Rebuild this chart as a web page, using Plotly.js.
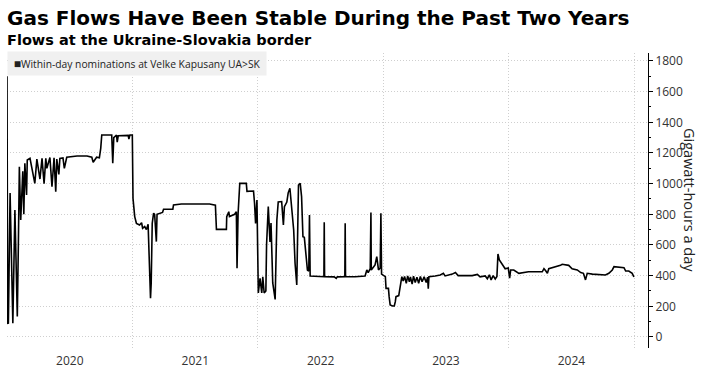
<!DOCTYPE html>
<html>
<head>
<meta charset="utf-8">
<script src="https://cdn.plot.ly/plotly-3.0.1.min.js"></script>
<style>
html,body{margin:0;padding:0;background:#fff;}
#chart{width:711px;height:381px;}
</style>
</head>
<body>
<div id="chart"></div>
<script>
// Within-day nominations at Velke Kapusany UA>SK, GWh/day
const dates = [
"2020-01-01","2020-01-03","2020-01-05","2020-01-10","2020-01-13","2020-01-18","2020-01-24","2020-01-27","2020-01-31","2020-02-03",
"2020-02-06","2020-02-10","2020-02-16","2020-02-19","2020-02-22","2020-02-27","2020-02-29","2020-03-08","2020-03-22","2020-03-28",
"2020-04-06","2020-04-12","2020-04-18","2020-04-23","2020-04-26","2020-05-05","2020-05-11","2020-05-17","2020-05-22","2020-05-25",
"2020-05-31","2020-06-03","2020-06-12","2020-06-16","2020-06-23","2020-07-23","2020-08-21","2020-09-04","2020-09-08","2020-09-18",
"2020-09-26","2020-09-30","2020-10-03","2020-11-01","2020-11-04","2020-11-07","2020-11-15","2020-11-17","2020-11-20","2020-12-19",
"2020-12-21","2020-12-24","2020-12-31",
"2021-01-02","2021-01-07","2021-01-12","2021-01-21","2021-01-27","2021-01-30","2021-02-05","2021-02-10","2021-02-15","2021-02-17",
"2021-02-22","2021-02-24","2021-02-27","2021-03-03","2021-03-06","2021-03-11","2021-03-13","2021-03-29","2021-04-01","2021-04-28",
"2021-04-30","2021-05-23","2021-08-13","2021-08-30","2021-09-02","2021-10-01","2021-10-02","2021-10-08","2021-10-10","2021-10-25",
"2021-10-30","2021-11-01","2021-11-04","2021-11-09","2021-11-28","2021-11-30","2021-12-19","2021-12-22","2021-12-25","2021-12-29",
"2022-01-02","2022-01-07","2022-01-12","2022-01-15","2022-01-19","2022-01-24","2022-01-26","2022-01-31","2022-02-05","2022-02-08",
"2022-02-13","2022-02-20","2022-02-25","2022-03-01","2022-03-11","2022-03-16","2022-03-19","2022-03-26","2022-03-30","2022-04-04",
"2022-04-10","2022-04-15","2022-04-19","2022-04-24","2022-04-29","2022-05-04","2022-05-08","2022-05-12","2022-05-16","2022-05-21",
"2022-05-25","2022-05-29","2022-05-31","2022-06-02","2022-06-16","2022-07-12","2022-07-13","2022-07-14","2022-08-11","2022-08-17",
"2022-08-20","2022-09-11","2022-09-12","2022-09-13","2022-10-11","2022-11-09","2022-11-14","2022-11-18","2022-11-24","2022-11-26",
"2022-11-27","2022-12-05","2022-12-08","2022-12-13","2022-12-18","2022-12-23","2022-12-25","2022-12-27","2022-12-31",
"2023-01-07","2023-01-09","2023-01-16","2023-01-18","2023-01-21","2023-01-28","2023-02-02","2023-02-05","2023-02-07","2023-02-15",
"2023-02-19","2023-02-22","2023-02-24","2023-02-28","2023-03-04","2023-03-09","2023-03-13","2023-03-18","2023-03-21","2023-03-26",
"2023-03-30","2023-04-04","2023-04-09","2023-04-14","2023-04-19","2023-04-24","2023-04-30","2023-05-06","2023-05-10","2023-05-12",
"2023-05-14","2023-06-01","2023-06-16","2023-06-25","2023-06-30","2023-07-21","2023-07-30","2023-08-07","2023-08-28","2023-09-17",
"2023-10-02","2023-10-10","2023-10-25","2023-10-31","2023-11-06","2023-11-11","2023-11-17","2023-11-23","2023-11-28","2023-12-01",
"2023-12-05","2023-12-11","2023-12-17","2023-12-22","2023-12-31",
"2024-01-04","2024-01-07","2024-01-16","2024-01-31","2024-02-19","2024-02-28","2024-04-08","2024-04-13","2024-04-18","2024-04-23",
"2024-04-27","2024-05-17","2024-05-31","2024-06-05","2024-06-24","2024-07-04","2024-07-19","2024-07-29","2024-08-06","2024-08-12",
"2024-08-17","2024-09-01","2024-09-20","2024-10-09","2024-10-19","2024-10-29","2024-11-03","2024-11-22","2024-12-02","2024-12-07",
"2024-12-16","2024-12-26","2024-12-31"
];
const flows = [
1700,90,91,939,600,90,828,500,133,590,
1110,763,1080,800,1133,926,1154,1165,1002,1160,
1030,1165,1000,1165,1100,1170,980,1168,948,1160,
1060,1165,1168,1100,1172,1180,1180,1172,1140,1172,
1168,1230,1317,1317,1133,1300,1317,1270,1312,1315,
1290,1317,1317,
904,785,741,730,745,709,720,700,735,567,
252,350,741,807,800,622,800,812,833,833,
861,867,867,860,702,702,785,817,785,800,
817,448,800,1002,1002,950,952,872,741,893,
287,383,287,393,287,300,600,850,620,743,
352,245,763,880,883,730,850,880,940,970,
828,698,481,339,991,1002,915,654,650,546,
437,430,796,398,395,393,748,393,392,382,
392,393,741,393,393,398,437,420,445,811,
437,460,470,524,437,450,807,410,404,
393,317,317,263,209,202,202,230,263,270,
328,383,393,365,395,350,398,360,392,345,
396,355,390,350,395,360,392,355,390,315,
393,398,404,415,398,410,420,400,398,400,
408,392,398,380,405,372,400,378,395,541,
502,480,459,445,450,
383,437,437,415,425,425,425,445,432,415,
445,456,467,474,467,445,437,420,415,372,
415,410,407,404,415,437,459,452,452,430,
430,415,391
];
const seriesName = "Within-day nominations at Velke Kapusany UA>SK";
const titleText = "Gas Flows Have Been Stable During the Past Two Years";
const subtitleText = "Flows at the Ukraine-Slovakia border";
const yTitle = "Gigawatt-hours a day";

const W = 711, H = 381, mT = 53, mB = 33;
const paperH = H - mT - mB;
function pyFromTop(px){ return (H - mB - px) / paperH; }

const trace = {
  x: dates, y: flows, type: "scatter", mode: "lines",
  line: {color: "#000", width: 1.6},
  name: seriesName, showlegend: false, hoverinfo: "skip"
};

const gridStyle = {showgrid: true, gridcolor: "#cfcfcf", griddash: "1px,2px", gridwidth: 1};

const layout = {
  width: W, height: H,
  margin: {l: 7, r: 63, t: mT, b: mB, pad: 0},
  paper_bgcolor: "#fff", plot_bgcolor: "#fff",
  font: {family: "Open Sans, Liberation Sans, sans-serif", size: 12, color: "#333"},
  showlegend: false,
  title: {
    text: "<b>" + titleText + "</b>",
    x: 0, xref: "paper", xanchor: "left",
    y: 1 - 18/H, yref: "container", yanchor: "middle",
    font: {family: "DejaVu Sans, sans-serif", size: 20, color: "#000"}
  },
  xaxis: Object.assign({
    type: "date",
    range: ["2020-01-01", "2025-02-10"],
    tick0: "2020-01-01", dtick: "M12",
    ticklabelmode: "period", tickformat: "%Y",
    showline: false, zeroline: false, ticks: "",
    ticklabelstandoff: 4,
    tickfont: {family: "Open Sans, sans-serif", size: 12, color: "#333"}
  }, gridStyle),
  yaxis: Object.assign({
    side: "right",
    range: [-72, 1852],
    tick0: 0, dtick: 200,
    zeroline: false,
    showline: true, linecolor: "#000", linewidth: 1,
    ticks: "outside", ticklen: 4, tickcolor: "#000", tickwidth: 1,
    minor: {dtick: 100, ticks: "outside", ticklen: 2, tickcolor: "#000", showgrid: false},
    tickfont: {family: "Open Sans, sans-serif", size: 12, color: "#333"}
  }, gridStyle),
  annotations: [
    {
      text: "<b>" + subtitleText + "</b>",
      xref: "paper", x: 0, xanchor: "left", xshift: -2,
      yref: "paper", y: pyFromTop(40), yanchor: "middle",
      showarrow: false,
      font: {family: "DejaVu Sans, sans-serif", size: 14.5, color: "#000"}
    },
    {
      text: "&nbsp;<span style='font-size:12px'>■</span>" + seriesName + "&nbsp;",
      xref: "paper", x: 0, xanchor: "left",
      yref: "paper", y: pyFromTop(51), yanchor: "top",
      showarrow: false, align: "left",
      bgcolor: "#f0f0f0", borderpad: 3,
      font: {family: "Open Sans, sans-serif", size: 10.3, color: "#222"}
    },
    {
      text: yTitle,
      xref: "paper", x: 1, xanchor: "center", xshift: 42,
      yref: "paper", y: pyFromTop(200), yanchor: "middle",
      textangle: 90, showarrow: false,
      font: {family: "Open Sans, sans-serif", size: 14.5, color: "#222"}
    }
  ]
};

Plotly.newPlot("chart", [trace], layout, {staticPlot: true, displayModeBar: false});
</script>
</body>
</html>
